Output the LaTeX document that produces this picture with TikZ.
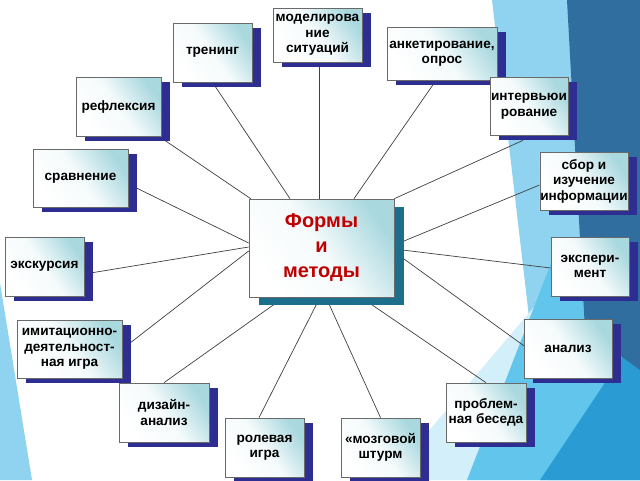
\documentclass[tikz,border=0pt]{standalone}
\usepackage{fontspec}
\setmainfont{Liberation Sans}
\usetikzlibrary{shadows,calc}
\pgfdeclarelayer{deco}
\pgfdeclarelayer{bg}
\pgfsetlayers{deco,bg,main}
\definecolor{shadowblue}{HTML}{2E2E92}
\definecolor{centershadow}{HTML}{1B6E8C}
\definecolor{boxtint}{HTML}{A9D8DF}
\definecolor{boxborder}{HTML}{6A6A6A}
\definecolor{formred}{HTML}{C00000}
\definecolor{linegray}{HTML}{404040}
\definecolor{bglight}{HTML}{8FD3F0}
\definecolor{bgpale}{HTML}{D2EFFA}
\definecolor{bgmid}{HTML}{62C6EC}
\definecolor{bgdeep}{HTML}{2A9CD3}
\definecolor{bgdark}{HTML}{2F6E9F}
\begin{document}
\begin{tikzpicture}[x=1pt,y=-1pt,
  boxbase/.style={draw=boxborder, line width=0.7pt, top color=boxtint, bottom color=white, middle color=white!88!boxtint, shading angle=-55, align=center, inner sep=0.5pt},
  box/.style={boxbase, drop shadow={shadow xshift=9pt, shadow yshift=-5pt, fill=shadowblue, opacity=1}, font=\bfseries\fontsize{13.6}{15.5}\selectfont},
  cbox/.style={boxbase, drop shadow={shadow xshift=10pt, shadow yshift=-8pt, fill=centershadow, opacity=1}, font=\bfseries\fontsize{20}{25}\selectfont, text=formred},
  link/.style={draw=linegray, line width=0.7pt}]
\useasboundingbox (0,0) rectangle (640,480);
\begin{pgfonlayer}{deco}
  \fill[white] (0,0) rectangle (640,480);
  \fill[bglight] (492,0) -- (640,0) -- (640,480) -- (548,480) -- cycle;
  \fill[bgpale] (387,480) -- (591,240) -- (640,240) -- (640,480) -- cycle;
  \fill[bgmid] (467,480) -- (560,240) -- (640,240) -- (640,480) -- cycle;
  \fill[bgdeep] (540,480) -- (640,330) -- (640,480) -- cycle;
  \fill[bgdark] (567,0) -- (640,0) -- (640,370) -- (585,330) -- cycle;
  \fill[bglight] (0,283) -- (32,480) -- (0,480) -- cycle;
\end{pgfonlayer}

\node[cbox, minimum width=145pt, minimum height=98pt] (c) at (321.5,248) {Формы\\и\\методы};

\node[box, minimum width=89pt, minimum height=54pt] (model) at (317.5,35) {моделирова\\ние\\ситуаций};
\node[box, minimum width=79pt, minimum height=59pt] (trening) at (212.5,52.5) {тренинг};
\node[box, minimum width=110pt, minimum height=53pt] (anket) at (442,53.5) {анкетирование,\\опрос};
\node[box, minimum width=78pt, minimum height=58pt] (interv) at (529,106) {интервьюи\\рование};
\node[box, minimum width=85pt, minimum height=59pt] (refl) at (118.5,106.5) {рефлексия};
\node[box, minimum width=95pt, minimum height=58pt] (sravn) at (80.5,178) {сравнение};
\node[box, minimum width=88pt, minimum height=58pt] (sbor) at (584,181) {сбор и\\изучение\\информации};
\node[box, minimum width=79pt, minimum height=59pt] (ekskurs) at (44.5,266.5) {экскурсия};
\node[box, minimum width=78pt, minimum height=59pt] (eksper) at (590,266.5) {экспери-\\мент};
\node[box, minimum width=105pt, minimum height=58pt] (imit) at (69.5,349) {имитационно-\\деятельност-\\ная игра};
\node[box, minimum width=88pt, minimum height=59pt] (analiz) at (568,348.5) {анализ};
\node[box, minimum width=90pt, minimum height=59pt] (dizain) at (164,412.5) {дизайн-\\анализ};
\node[box, minimum width=80pt, minimum height=59pt] (problem) at (486,412.5) {проблем-\\ная беседа};
\node[box, minimum width=79pt, minimum height=59pt] (rolev) at (264.5,447.5) {ролевая\\игра};
\node[box, minimum width=79pt, minimum height=59pt] (mozg) at (380.5,447.5) {«мозговой\\штурм};

\begin{pgfonlayer}{bg}
  \draw[link] ([xshift=1.5pt]model.south) -- ([xshift=-2.5pt]c.north);
  \draw[link] (trening.south) -- ([xshift=-31.5pt]c.north);
  \draw[link] ([xshift=2pt,yshift=-3pt]refl.south east) -- ([xshift=2pt]c.north west);
  \draw[link] ([yshift=-6pt]sravn.east) -- ([yshift=5pt]c.west);
  \draw[link] ([xshift=-6pt]anket.south) -- ([xshift=32.5pt]c.north);
  \draw[link] ([xshift=-6pt,yshift=-5pt]interv.south) -- (c.north east);
  \draw[link] ([yshift=-4pt]sbor.west) -- ([yshift=3pt]c.east);
  \draw[link] ([yshift=-1.5pt]eksper.west) -- ([yshift=-1pt]c.east);
  \draw[link] ([xshift=4pt]analiz.west) -- ([yshift=-4pt]c.east);
  \draw[link] ([yshift=-7.5pt]ekskurs.east) -- ([yshift=1pt]c.west);
  \draw[link] (imit.east) -- ([yshift=-3pt]c.west);
  \draw[link] (dizain.north) -- ([xshift=-37.5pt]c.south);
  \draw[link] ([xshift=-5.5pt]rolev.north) -- ([xshift=-1.5pt]c.south);
  \draw[link] (mozg.north) -- ([xshift=4.5pt]c.south);
  \draw[link] (problem.north) -- ([xshift=39.5pt]c.south);
\end{pgfonlayer}
\end{tikzpicture}
\end{document}
